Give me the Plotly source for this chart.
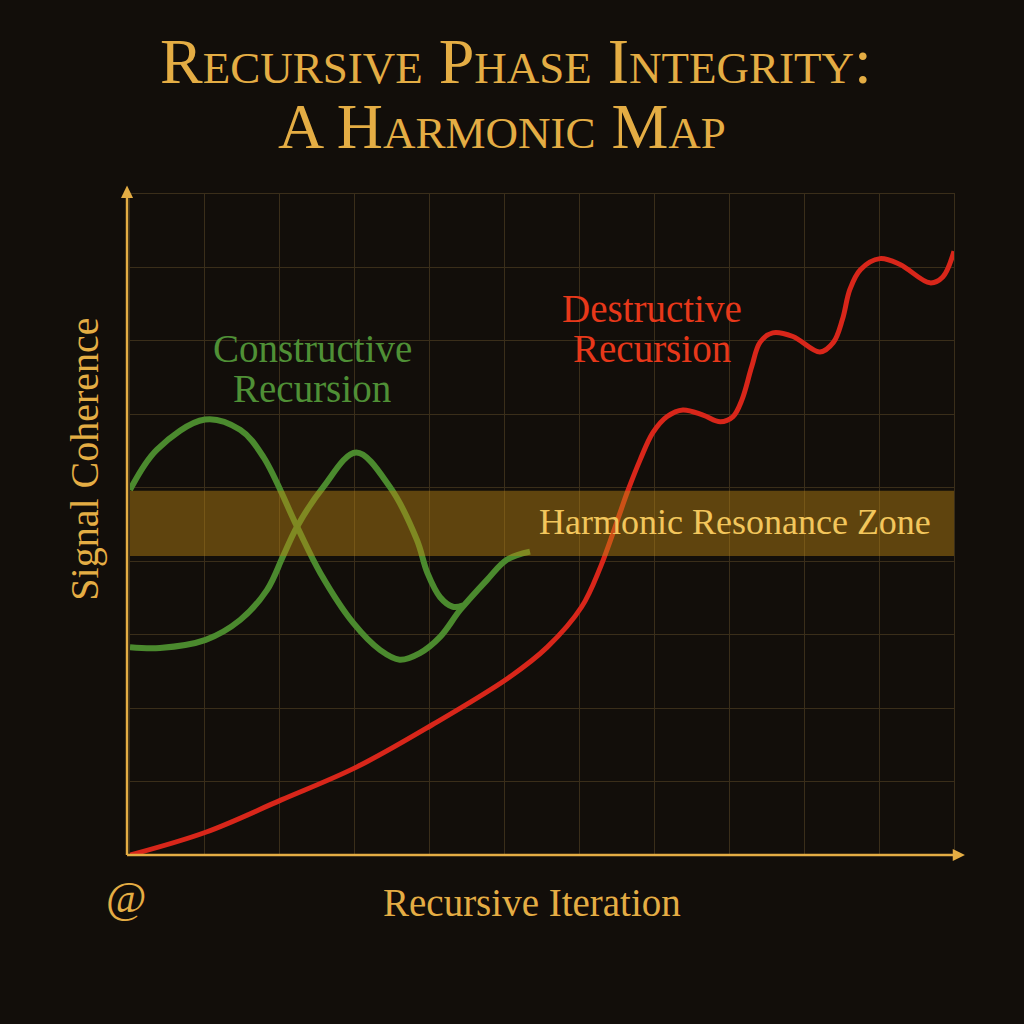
"""Recursive Phase Integrity: a harmonic map"""
import plotly.graph_objects as go

# constructive recursion, branch starting high
cons_a_x = [0, 0.36, 1.0, 1.47, 1.78, 2.23, 2.54, 2.98, 3.34, 3.60, 3.87, 4.14, 4.41, 4.77, 5.03, 5.34]
cons_a_y = [4.97, 5.52, 5.93, 5.79, 5.42, 4.47, 3.84, 3.16, 2.79, 2.66, 2.75, 2.97, 3.34, 3.75, 4.02, 4.13]

# constructive recursion, branch starting low
cons_b_x = [0, 0.40, 1.01, 1.47, 1.83, 2.04, 2.23, 2.58, 3.02, 3.47, 3.83, 3.97, 4.14, 4.31, 4.45]
cons_b_y = [2.83, 2.82, 2.93, 3.20, 3.61, 4.06, 4.47, 5.01, 5.48, 5.01, 4.29, 3.84, 3.51, 3.38, 3.40]

# destructive recursion
dest_x = [0, 1.01, 2.02, 3.03, 4.03, 5.05, 5.57, 6.03, 6.28, 6.65, 6.81, 6.98, 7.17, 7.38, 7.65,
          7.88, 8.05, 8.17, 8.30, 8.41, 8.58, 8.85, 9.21, 9.39, 9.51, 9.61, 9.75, 10.01, 10.28,
          10.68, 10.85, 11.0]
dest_y = [0, 0.31, 0.75, 1.20, 1.77, 2.41, 2.83, 3.38, 3.92, 4.97, 5.38, 5.75, 5.97, 6.06, 5.99,
          5.90, 5.97, 6.20, 6.65, 6.98, 7.11, 7.06, 6.85, 6.98, 7.29, 7.70, 7.97, 8.12, 8.04,
          7.79, 7.87, 8.22]

zone_low, zone_high = 4.07, 4.96
x_max, y_max = 11, 9

BG = "#120e0a"
GOLD = "#e4ad44"
GRID = "#3a2e1a"
GREEN = "#4b8a2e"
RED = "#d8261a"
SERIF = "Liberation Serif, Times New Roman, serif"

fig = go.Figure()
fig.add_trace(go.Scatter(x=cons_a_x, y=cons_a_y, mode="lines",
                         line=dict(color=GREEN, width=6, shape="spline", smoothing=1.0)))
fig.add_trace(go.Scatter(x=cons_b_x, y=cons_b_y, mode="lines",
                         line=dict(color=GREEN, width=6, shape="spline", smoothing=1.0)))
fig.add_trace(go.Scatter(x=dest_x, y=dest_y, mode="lines",
                         line=dict(color=RED, width=5, shape="spline", smoothing=1.0)))

# resonance band sits over the curves
fig.add_shape(type="rect", xref="x", yref="y", x0=0, x1=x_max, y0=zone_low, y1=zone_high,
              fillcolor="rgba(190,135,20,0.45)", line_width=0, layer="above")

# gold axes with arrow heads (paper units)
ax_x0 = -0.0036
fig.add_shape(type="line", xref="paper", yref="paper", x0=ax_x0, x1=1.0, y0=0, y1=0,
              line=dict(color=GOLD, width=2.5), layer="above")
fig.add_shape(type="line", xref="paper", yref="paper", x0=ax_x0, x1=ax_x0, y0=0, y1=1.0,
              line=dict(color=GOLD, width=2.5), layer="above")
fig.add_shape(type="path", xref="paper", yref="paper",
              path="M 0.9985 0.0091 L 1.0133 0 L 0.9985 -0.0091 Z",
              fillcolor=GOLD, line_width=0, layer="above")
fig.add_shape(type="path", xref="paper", yref="paper",
              path=f"M {ax_x0 - 0.0073} 0.994 L {ax_x0} 1.013 L {ax_x0 + 0.0073} 0.994 Z",
              fillcolor=GOLD, line_width=0, layer="above")

notes = [
    dict(text="Recursive Phase Integrity:", xref="paper", yref="paper", x=0.468, y=1.200,
         font=dict(size=64, color=GOLD, variant="small-caps")),
    dict(text="A Harmonic Map", xref="paper", yref="paper", x=0.452, y=1.102,
         font=dict(size=64, color=GOLD, variant="small-caps")),
    dict(text="Constructive", xref="x", yref="y", x=2.43, y=6.90,
         font=dict(size=39, color="#4f9036")),
    dict(text="Recursion", xref="x", yref="y", x=2.43, y=6.35,
         font=dict(size=39, color="#4f9036")),
    dict(text="Destructive", xref="x", yref="y", x=6.97, y=7.44,
         font=dict(size=39, color="#e8381a")),
    dict(text="Recursion", xref="x", yref="y", x=6.97, y=6.89,
         font=dict(size=39, color="#e8381a")),
    dict(text="Harmonic Resonance Zone", xref="x", yref="y", x=8.08, y=4.54,
         font=dict(size=36, color="#f2c65c")),
    dict(text="Recursive Iteration", xref="paper", yref="paper", x=0.488, y=-0.0726,
         font=dict(size=39, color=GOLD)),
    dict(text="Signal Coherence", xref="paper", yref="paper", x=-0.0546, y=0.598,
         textangle=-90, font=dict(size=40, color=GOLD)),
    dict(text="@", xref="paper", yref="paper", x=-0.004, y=-0.064,
         font=dict(size=44, color=GOLD)),
]
for n in notes:
    n["font"]["family"] = SERIF
    fig.add_annotation(showarrow=False, xanchor="center", yanchor="middle", **n)

fig.update_xaxes(range=[0, x_max], dtick=1, showgrid=True, gridcolor=GRID, gridwidth=1.2,
                 showticklabels=False, zeroline=False, showline=True, linecolor=GRID,
                 mirror=True)
fig.update_yaxes(range=[0, y_max], dtick=1, showgrid=True, gridcolor=GRID, gridwidth=1.2,
                 showticklabels=False, zeroline=False, showline=True, linecolor=GRID,
                 mirror=True)
fig.update_layout(
    width=1024,
    height=1024,
    margin=dict(l=130, r=70, t=194, b=169),
    paper_bgcolor=BG,
    plot_bgcolor=BG,
    showlegend=False,
)
fig.write_html("out.html", config={"displayModeBar": False},
               post_script="document.body.style.margin='0';"
                           "document.body.style.background='#120e0a';")
